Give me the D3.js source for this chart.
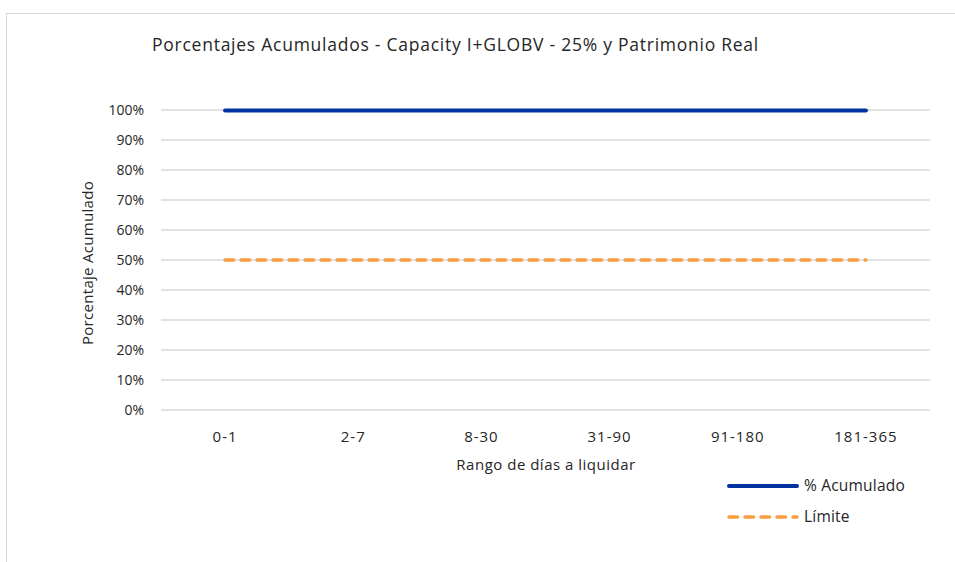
<!DOCTYPE html>
<html>
<head>
<meta charset="utf-8">
<script src="https://cdn.jsdelivr.net/npm/d3@7"></script>
<style>
  body { margin: 0; background: #fff; }
  text { fill: #262626; }
</style>
</head>
<body>
<script>
// data
const categories = ["0-1", "2-7", "8-30", "31-90", "91-180", "181-365"];
const acumulado = [1, 1, 1, 1, 1, 1];
const limite = [0.5, 0.5, 0.5, 0.5, 0.5, 0.5];
const yTicks = [0, 0.1, 0.2, 0.3, 0.4, 0.5, 0.6, 0.7, 0.8, 0.9, 1];

const width = 955, height = 562;
const plotLeft = 161, plotRight = 930, plotTop = 110, plotBottom = 410;

const svg = d3.select("body").append("svg")
  .attr("width", width)
  .attr("height", height);

// chart frame
svg.append("rect")
  .attr("x", 6.5).attr("y", 13.5)
  .attr("width", width).attr("height", height)
  .attr("fill", "none")
  .attr("stroke", "#d9d9d9");

const x = d3.scaleBand().domain(categories).range([plotLeft, plotRight]);
const y = d3.scaleLinear().domain([0, 1]).range([plotBottom, plotTop]);

// gridlines
svg.append("g").selectAll("line")
  .data(yTicks)
  .join("line")
  .attr("x1", plotLeft).attr("x2", plotRight)
  .attr("y1", d => y(d)).attr("y2", d => y(d))
  .attr("stroke", "#d9d9d9")
  .attr("stroke-width", 1.5);

// y tick labels
svg.append("g").selectAll("text")
  .data(yTicks)
  .join("text")
  .attr("x", 144)
  .attr("y", d => y(d))
  .attr("dy", "0.35em")
  .attr("text-anchor", "end")
  .style("font", "14px 'Open Sans', sans-serif")
  .text(d => d3.format(".0%")(d));

// x tick labels
svg.append("g").selectAll("text")
  .data(categories)
  .join("text")
  .attr("x", d => x(d) + x.bandwidth() / 2)
  .attr("y", 437)
  .attr("dy", "0.35em")
  .attr("text-anchor", "middle")
  .style("font", "15px 'Open Sans', sans-serif")
  .style("letter-spacing", "1px")
  .text(d => d);

// title
svg.append("text")
  .attr("x", 152).attr("y", 51)
  .style("font", "17.5px 'Open Sans', sans-serif")
  .style("letter-spacing", "0.75px")
  .text("Porcentajes Acumulados - Capacity I+GLOBV - 25% y Patrimonio Real");

// axis titles
svg.append("text")
  .attr("x", 546).attr("y", 470)
  .attr("text-anchor", "middle")
  .style("font", "15px 'Open Sans', sans-serif")
  .style("letter-spacing", "0.5px")
  .text("Rango de días a liquidar");

svg.append("text")
  .attr("transform", "translate(93,263) rotate(-90)")
  .attr("text-anchor", "middle")
  .style("font", "15px 'Open Sans', sans-serif")
  .style("letter-spacing", "0.3px")
  .text("Porcentaje Acumulado");

const line = d3.line()
  .x((d, i) => x(categories[i]) + x.bandwidth() / 2)
  .y(d => y(d));

svg.append("path")
  .datum(acumulado)
  .attr("d", line)
  .attr("fill", "none")
  .attr("stroke", "#0033a0")
  .attr("stroke-width", 4)
  .attr("stroke-linecap", "round")
  .attr("transform", "translate(0,0.5)");

svg.append("path")
  .datum(limite)
  .attr("d", line)
  .attr("fill", "none")
  .attr("stroke", "#fa9c3e")
  .attr("stroke-width", 3.5)
  .attr("stroke-linecap", "round")
  .attr("stroke-dasharray", "8.5,7.5");

// legend
const legend = [
  { name: "% Acumulado", color: "#0033a0", dash: null, w: 4, y: 486 },
  { name: "Límite", color: "#fa9c3e", dash: "8.5,7.5", w: 3.5, y: 517 }
];
const lg = svg.append("g").selectAll("g")
  .data(legend)
  .join("g");
lg.append("line")
  .attr("x1", 729).attr("x2", 797)
  .attr("y1", d => d.y).attr("y2", d => d.y)
  .attr("stroke", d => d.color)
  .attr("stroke-width", d => d.w)
  .attr("stroke-linecap", "round")
  .attr("stroke-dasharray", d => d.dash);
lg.append("text")
  .attr("x", 804)
  .attr("y", d => d.y)
  .attr("dy", "0.35em")
  .style("font", "15.5px 'Open Sans', sans-serif")
  .style("letter-spacing", "0.2px")
  .text(d => d.name);
</script>
</body>
</html>
